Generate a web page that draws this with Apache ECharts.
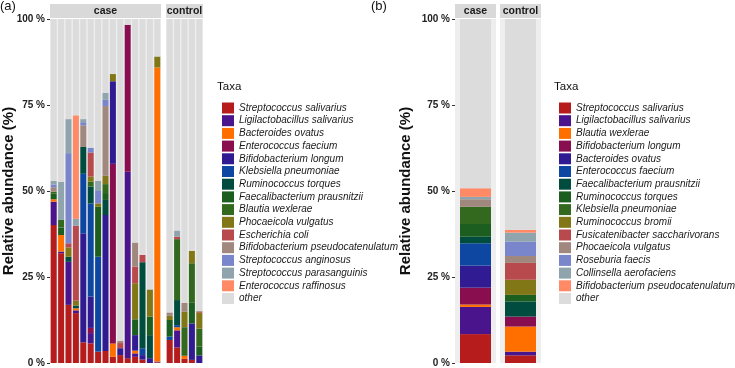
<!DOCTYPE html>
<html>
<head>
<meta charset="utf-8">
<script src="https://cdn.jsdelivr.net/npm/echarts@6/dist/echarts.min.js"></script>
<style>
  html, body { margin: 0; padding: 0; background: #fff; }
  #chart { width: 735px; height: 368px; }
</style>
</head>
<body>
<div id="chart"></div>
<script>
// legend order = stacking order, bottom to top
const taxaA = [
  'Streptococcus salivarius', 'Ligilactobacillus salivarius', 'Bacteroides ovatus',
  'Enterococcus faecium', 'Bifidobacterium longum', 'Klebsiella pneumoniae',
  'Ruminococcus torques', 'Faecalibacterium prausnitzii', 'Blautia wexlerae',
  'Phocaeicola vulgatus', 'Escherichia coli', 'Bifidobacterium pseudocatenulatum',
  'Streptococcus anginosus', 'Streptococcus parasanguinis', 'Enterococcus raffinosus', 'other'
];
const taxaB = [
  'Streptococcus salivarius', 'Ligilactobacillus salivarius', 'Blautia wexlerae',
  'Bifidobacterium longum', 'Bacteroides ovatus', 'Enterococcus faecium',
  'Faecalibacterium prausnitzii', 'Ruminococcus torques', 'Klebsiella pneumoniae',
  'Ruminococcus bromii', 'Fusicatenibacter saccharivorans', 'Phocaeicola vulgatus',
  'Roseburia faecis', 'Collinsella aerofaciens', 'Bifidobacterium pseudocatenulatum', 'other'
];

const palette = [
  '#B71C1C', '#4A148C', '#FF6F00', '#880E4F', '#311B92', '#0D47A1', '#004D40', '#1B5E20',
  '#33691E', '#827717', '#B84A4D', '#A1887F', '#7986CB', '#90A4AE', '#FF8A65', '#DCDCDC'
];

// (a) case samples, one row per taxon (15 samples), in %
const aCase = [
  [40.1, 31.9, 16.9, 14.5, 6.0, 5.7, 3.3, 3.5, 1.8, 2.3, 1.4, 1.8, 1.0, 0, 0.2],
  [6.8, 0.5, 12.5, 0.8, 0, 3.0, 0, 0, 0, 0, 54.2, 1.0, 0, 0, 0.2],
  [0.7, 4.8, 0, 0.6, 0, 0, 0, 0, 3.9, 0, 0, 0.8, 0, 0, 85.5],
  [0, 0, 0, 0, 0, 1.5, 0, 0, 52.2, 0, 42.7, 0, 0, 0, 0],
  [0, 0, 0, 0, 31.7, 9.1, 0, 39.5, 24.0, 2.0, 0, 4.5, 1.3, 1.4, 0],
  [0, 0, 0, 0, 17.3, 27.1, 27.6, 0, 0, 0, 0, 0, 2.0, 0, 0],
  [0, 0, 1.5, 0.8, 7.8, 4.9, 0, 4.4, 0, 0, 0, 0, 25.0, 6.7, 0],
  [1.6, 2.2, 0, 0, 0, 0, 14.5, 2.0, 0, 0, 0, 4.6, 0, 5.4, 0],
  [0.6, 2.2, 0, 0, 0, 1.4, 0, 2.6, 0, 0, 0, 0, 0, 0, 0],
  [0, 0, 2.7, 1.4, 0, 1.5, 1.0, 2.4, 2.1, 0, 0, 10.5, 0, 7.9, 3.2],
  [0, 0, 1.2, 21.8, 0, 7.0, 0, 0, 0, 1.5, 0, 4.8, 2.1, 0, 0],
  [1.3, 0, 0, 0, 6.3, 0, 0, 20.3, 0, 0.7, 0, 7.0, 0, 0, 0],
  [0.8, 0, 26.2, 0, 0.9, 1.4, 3.6, 1.8, 0, 0, 0, 0, 0, 0, 0],
  [1.0, 11.1, 9.9, 2.0, 0.9, 0, 2.9, 2.0, 0, 0, 0, 0, 0, 0, 0],
  [0, 0, 0, 30.1, 0, 0, 0, 0, 0, 0, 0, 0, 0, 0, 0]
];

// (a) control samples (5)
const aCtrl = [
  [6.7, 4.5, 1.2, 0.9, 0],
  [0, 5.0, 0, 0, 0],
  [0, 0.9, 0.9, 0, 0],
  [0, 0, 0, 0, 0],
  [0, 0, 0, 10.6, 2.2],
  [1.0, 0.6, 0, 0, 0],
  [0, 7.3, 0, 0, 0],
  [4.8, 0, 0, 6.0, 2.6],
  [0, 17.7, 8.3, 11.5, 5.2],
  [1.2, 0, 4.5, 3.6, 4.6],
  [0, 0.7, 0, 0, 0.3],
  [1.0, 0, 2.6, 0, 0.3],
  [0, 0, 0, 0, 0],
  [0, 1.8, 0, 0, 0],
  [0, 0, 0, 0, 0]
];

// (b) pooled groups, one value per taxon
const bCase = [8.4, 7.9, 0.7, 4.9, 6.4, 6.5, 1.9, 3.7, 5.0, 0, 0, 2.2, 0, 0.7, 2.5];
const bCtrl = [2.2, 1.1, 7.3, 2.9, 0, 0, 4.4, 1.9, 0, 4.4, 4.9, 2.0, 4.2, 2.6, 0.8];

const caseIds = aCase[0].map((_, i) => 'case' + (i + 1));
const ctrlIds = aCtrl[0].map((_, i) => 'ctrl' + (i + 1));

// remainder goes to "other"
function withOther(rows) {
  const n = rows[0].length;
  const other = [];
  for (let j = 0; j < n; j++) {
    let s = 0;
    rows.forEach(r => { s += r[j]; });
    other.push(+(100 - s).toFixed(2));
  }
  return rows.concat([other]);
}
const aCaseAll = withOther(aCase);
const aCtrlAll = withOther(aCtrl);
const bCaseAll = withOther(bCase.map(v => [v]));
const bCtrlAll = withOther(bCtrl.map(v => [v]));

const FONT = 'Liberation Sans, Arial, sans-serif';

const grids = [
  { left: 50, top: 19, width: 111, height: 344 },
  { left: 166, top: 19, width: 37, height: 344 },
  { left: 455, top: 19, width: 41, height: 344 },
  { left: 500, top: 19, width: 41, height: 344 }
].map(g => Object.assign(g, { show: true, backgroundColor: '#EEEEEE', borderWidth: 0 }));

function xAx(idx, cats) {
  return {
    type: 'category', gridIndex: idx, data: cats,
    axisLine: { show: false }, axisTick: { show: false }, axisLabel: { show: false }
  };
}
function yAx(idx, labels) {
  return {
    type: 'value', gridIndex: idx, min: 0, max: 100, interval: 25,
    axisLine: { show: false },
    axisTick: { show: labels, length: 3, lineStyle: { color: '#333' } },
    axisLabel: {
      show: labels, margin: 5, formatter: v => v + ' %',
      fontFamily: FONT, fontSize: 10, fontWeight: 'bold', color: '#222'
    },
    splitLine: { show: false }
  };
}

const series = [];
function addSeries(rows, names, prefix, axis, stack, barW) {
  rows.forEach((row, k) => {
    series.push({
      type: 'bar', name: prefix + names[k], stack: stack,
      xAxisIndex: axis, yAxisIndex: axis, barWidth: barW,
      itemStyle: { color: palette[k] },
      data: row, animation: false, silent: true
    });
  });
}
addSeries(aCaseAll, taxaA, '', 0, 'aCase', 6);
addSeries(aCtrlAll, taxaA, '', 1, 'aCtrl', 6);
addSeries(bCaseAll, taxaB, 'b|', 2, 'bCase', 31);
addSeries(bCtrlAll, taxaB, 'b|', 3, 'bCtrl', 31);

const legendBase = {
  orient: 'vertical', icon: 'rect', itemWidth: 12, itemHeight: 11, itemGap: 1.7,
  selectedMode: false,
  formatter: n => n.replace(/^b\|/, ''),
  textStyle: { fontFamily: FONT, fontSize: 10, fontStyle: 'italic', color: '#1a1a1a', lineHeight: 11 }
};

function strip(x, w, label) {
  return [
    { type: 'rect', shape: { x: x, y: 4, width: w, height: 14 }, style: { fill: '#D9D9D9' } },
    { type: 'text', x: x + w / 2, y: 11.5,
      style: { text: label, textAlign: 'center', textVerticalAlign: 'middle',
               fontFamily: FONT, fontSize: 10.5, fontWeight: 'bold', fill: '#1a1a1a' } }
  ];
}
function plainText(x, y, t, size, weight, rot) {
  return { type: 'text', x: x, y: y, rotation: rot || 0,
    style: { text: t, textAlign: rot ? 'center' : 'left', textVerticalAlign: rot ? 'middle' : 'top',
             fontFamily: FONT, fontSize: size, fontWeight: weight, fill: '#111' } };
}

const option = {
  animation: false,
  grid: grids,
  xAxis: [xAx(0, caseIds), xAx(1, ctrlIds), xAx(2, ['case']), xAx(3, ['control'])],
  yAxis: [yAx(0, true), yAx(1, false), yAx(2, true), yAx(3, false)],
  legend: [
    Object.assign({}, legendBase, { data: taxaA, left: 217, top: 97.5 }),
    Object.assign({}, legendBase, { data: taxaB.map(n => 'b|' + n), left: 554, top: 97.5 })
  ],
  graphic: [].concat(
    strip(50, 111, 'case'), strip(166, 37, 'control'),
    strip(455, 41, 'case'), strip(500, 41, 'control'),
    [
      plainText(0, 0, '(a)', 13, 'normal'),
      plainText(371, 0, '(b)', 13, 'normal'),
      plainText(217, 81, 'Taxa', 11.5, 'normal'),
      plainText(554, 81, 'Taxa', 11.5, 'normal'),
      plainText(9, 191, 'Relative abundance (%)', 15, 'bold', Math.PI / 2),
      plainText(406, 191, 'Relative abundance (%)', 15, 'bold', Math.PI / 2)
    ]
  ),
  series: series
};

const chart = echarts.init(document.getElementById('chart'));
chart.setOption(option);
</script>
</body>
</html>
